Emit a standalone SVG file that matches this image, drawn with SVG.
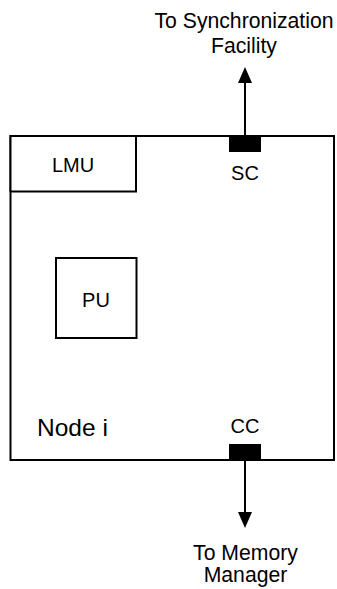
<svg xmlns="http://www.w3.org/2000/svg" width="337" height="589" viewBox="0 0 337 589">
  <style>
    .box { fill: #ffffff; stroke: #000000; stroke-width: 2; }
    .port { fill: #000000; stroke: none; }
    .conn { stroke: #000000; stroke-width: 2; fill: none; }
    text { font-family: "Liberation Sans", Arial, Helvetica, sans-serif; fill: #000000; }
    .lbl { font-size: 20px; text-anchor: middle; }
    .ext { font-size: 21.2px; text-anchor: middle; }
    .big { font-size: 24.5px; }
  </style>
  <defs>
    <marker id="arrow" viewBox="0 0 16 14" refX="13" refY="7" markerWidth="16" markerHeight="14" markerUnits="userSpaceOnUse" orient="auto">
      <path d="M0,0 L16,7 L0,14 Z" fill="#000000"/>
    </marker>
  </defs>
  <rect width="337" height="589" fill="#ffffff"/>

  <g id="node-i">
    <rect class="box" x="10.5" y="136" width="323.5" height="324"/>
    <text class="big" x="37" y="436">Node i</text>
  </g>

  <g id="lmu">
    <rect class="box" x="10.5" y="136" width="125.5" height="55.5"/>
    <text class="lbl" x="73" y="172">LMU</text>
  </g>

  <g id="pu">
    <rect class="box" x="56" y="258" width="80.5" height="80"/>
    <text class="lbl" x="96" y="307">PU</text>
  </g>

  <g id="sc">
    <rect class="port" x="229" y="136" width="32" height="16"/>
    <text class="lbl" x="245" y="180">SC</text>
  </g>

  <g id="cc">
    <rect class="port" x="229" y="444" width="32" height="16"/>
    <text class="lbl" x="245" y="433">CC</text>
  </g>

  <g id="sync-label">
    <text class="ext" x="244" y="28">To Synchronization</text>
    <text class="ext" x="244" y="53">Facility</text>
  </g>

  <g id="mem-label">
    <text class="ext" x="245.5" y="560">To Memory</text>
    <text class="ext" x="245.5" y="582">Manager</text>
  </g>

  <g id="connectors">
    <line class="conn" x1="245" y1="136" x2="245" y2="70" marker-end="url(#arrow)"/>
    <line class="conn" x1="245" y1="460" x2="245" y2="525" marker-end="url(#arrow)"/>
  </g>
</svg>
